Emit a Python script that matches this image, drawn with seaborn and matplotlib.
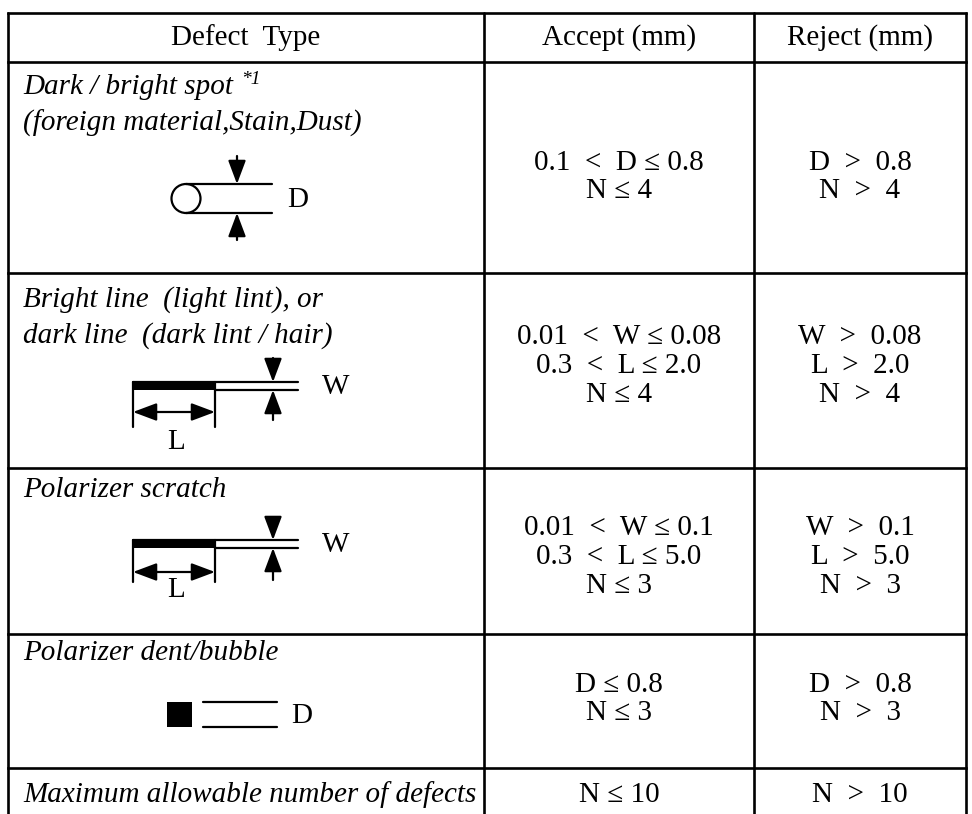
import matplotlib
matplotlib.use("Agg")
import matplotlib.pyplot as plt
import seaborn as sns
from matplotlib.patches import Circle, Rectangle

# table content
col_headers = ["Defect  Type", "Accept (mm)", "Reject (mm)"]
defect_labels = [
    ["Dark / bright spot", "(foreign material,Stain,Dust)"],
    ["Bright line  (light lint), or", "dark line  (dark lint / hair)"],
    ["Polarizer scratch"],
    ["Polarizer dent/bubble"],
    ["Maximum allowable number of defects"],
]
footnote_mark = "*1"
accept_rules = [
    ["0.1  <  D \u2264 0.8", "N \u2264 4"],
    ["0.01  <  W \u2264 0.08", "0.3  <  L \u2264 2.0", "N \u2264 4"],
    ["0.01  <  W \u2264 0.1", "0.3  <  L \u2264 5.0", "N \u2264 3"],
    ["D \u2264 0.8", "N \u2264 3"],
    ["N \u2264 10"],
]
reject_rules = [
    ["D  >  0.8", "N  >  4"],
    ["W  >  0.08", "L  >  2.0", "N  >  4"],
    ["W  >  0.1", "L  >  5.0", "N  >  3"],
    ["D  >  0.8", "N  >  3"],
    ["N  >  10"],
]
dim_labels = ["D", "W", "W", "D"]

sns.set_theme(style="white")
plt.rcParams["font.family"] = ["Liberation Serif", "DejaVu Serif"]
plt.rcParams["text.color"] = "black"

fig = plt.figure(figsize=(9.72, 8.14), dpi=100)
ax = fig.add_axes([0, 0, 1, 1])
ax.set_xlim(0, 972)
ax.set_ylim(814, 0)
ax.axis("off")

FS = 21
LW = 1.9
row_edges = [13, 62, 273, 468, 634, 768, 814]
col_edges = [8, 484, 754, 966]

# grid
for y in row_edges[:-1]:
    ax.plot([col_edges[0], col_edges[-1]], [y, y], color="black", lw=LW, solid_capstyle="projecting")
for x in col_edges:
    ax.plot([x, x], [row_edges[0], row_edges[-1]], color="black", lw=LW)

# header
hdr_y = (row_edges[0] + row_edges[1]) / 2
for i, txt in enumerate(col_headers):
    cx = (col_edges[i] + col_edges[i + 1]) / 2
    ax.text(cx, hdr_y, txt, ha="center", va="center", fontsize=FS)

# left column labels
label_top = [87, 300, 490, 653, 795]
for r, lines in enumerate(defect_labels):
    for k, line in enumerate(lines):
        t = ax.text(23, label_top[r] + k * 36, line, ha="left", va="center",
                    fontsize=FS, style="italic")
        if r == 0 and k == 0:
            first_label = t

fig.canvas.draw()
bb = first_label.get_window_extent().transformed(ax.transData.inverted())
ax.text(bb.x1 + 8, label_top[0] - 7, footnote_mark, ha="left", va="center",
        fontsize=14, style="italic")

# accept / reject columns
rule_center = [177, 366, 557, 699, 795]
step = 29
for r in range(len(accept_rules)):
    for rules, ci in ((accept_rules[r], 0), (reject_rules[r], 1)):
        cx = (col_edges[ci + 1] + col_edges[ci + 2]) / 2
        n = len(rules)
        for k, line in enumerate(rules):
            y = rule_center[r] + (k - (n - 1) / 2) * step
            ax.text(cx, y, line, ha="center", va="center", fontsize=FS)

arrow_kw = dict(arrowstyle="-|>,head_length=0.8,head_width=0.3", color="black",
                lw=1.6, mutation_scale=18, shrinkA=0, shrinkB=0)


def v_arrows(x, y_top, y_bot, top_start, bot_start):
    ax.annotate("", xy=(x, y_top), xytext=(x, top_start), arrowprops=arrow_kw)
    ax.annotate("", xy=(x, y_bot), xytext=(x, bot_start), arrowprops=arrow_kw)


# spot diagram
ax.add_patch(Circle((186, 198.5), 14.5, fill=False, ec="black", lw=1.6))
ax.plot([186, 272], [184, 184], color="black", lw=1.6)
ax.plot([186, 272], [213, 213], color="black", lw=1.6)
v_arrows(237, 184, 213, 156, 240)
ax.text(298, 200, dim_labels[0], ha="center", va="center", fontsize=FS)


# line / scratch diagrams
def line_diagram(y_top, y_bot, y_dim, y_end, y_L, w_top_start, w_bot_start, wy, label):
    ax.add_patch(Rectangle((133, y_top), 82, y_bot - y_top, color="black", lw=0))
    ax.plot([133, 298], [y_top, y_top], color="black", lw=1.6)
    ax.plot([215, 298], [y_bot, y_bot], color="black", lw=1.6)
    ax.plot([133, 133], [y_top, y_end], color="black", lw=1.6)
    ax.plot([215, 215], [y_top, y_end], color="black", lw=1.6)
    dbl = dict(arrow_kw)
    dbl["arrowstyle"] = "<|-|>,head_length=0.8,head_width=0.3"
    ax.annotate("", xy=(133, y_dim), xytext=(215, y_dim), arrowprops=dbl)
    ax.text(176, y_L, "L", ha="center", va="center", fontsize=FS)
    v_arrows(273, y_top, y_bot, w_top_start, w_bot_start)
    ax.text(336, wy, label, ha="center", va="center", fontsize=FS)


line_diagram(382, 390, 412, 427, 442, 358, 420, 387, dim_labels[1])
line_diagram(540, 548, 572, 582, 590, 518, 580, 545, dim_labels[2])

# dent diagram
ax.add_patch(Rectangle((167, 702), 25, 25, color="black", lw=0))
ax.plot([203, 277], [702, 702], color="black", lw=1.6)
ax.plot([203, 277], [727, 727], color="black", lw=1.6)
ax.text(302, 716, dim_labels[3], ha="center", va="center", fontsize=FS)

fig.savefig("out.png", dpi=100, facecolor="white")
